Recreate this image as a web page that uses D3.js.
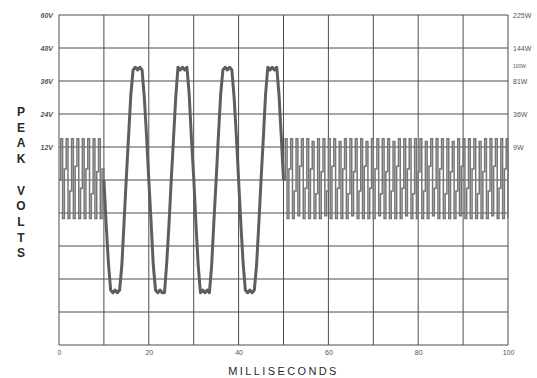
<!DOCTYPE html>
<html>
<head>
<meta charset="utf-8">
<script src="https://cdn.jsdelivr.net/npm/d3@7"></script>
<style>
  body { margin: 0; background: #fff; }
  svg { display: block; font-family: 'Liberation Sans', Arial, sans-serif; }
</style>
</head>
<body>
<div class="chart"></div>
<script>
// x ticks (ms) and y ticks (peak volts)
const xTicks = [0, 20, 40, 60, 80, 100];
const xGrid = [0, 10, 20, 30, 40, 50, 60, 70, 80, 90, 100];
const yGrid = [-60, -48, -36, -24, -12, 0, 12, 24, 36, 48, 60];
const voltTicks = [12, 24, 36, 48, 60];
const wattTicks = [12, 24, 36, 40, 48, 60];
const wattLabels = ['9W', '36W', '81W', '100W', '144W', '225W'];
const yTitle = ['P', 'E', 'A', 'K', '', 'V', 'O', 'L', 'T', 'S'];

// burst before the sine, sampled every 0.4 ms from 0 ms
const burst1Start = 0, burst1Step = 0.4;
const burst1 = [0, 15, -14, 4, 15, -14, -4, 15, -14, 5, 15, -14, -3, 15, -14, 4, 15, -14, -5, 15, -14, 3, 15, -14, 4, 0];

// clipped sine, sampled every 0.5 ms from 10 ms
const sineStart = 10, sineStep = 0.5;
const sine = [
  0, -16, -30, -40, -41, -40, -41, -40, -31, -15,
  1, 16, 31, 40, 41, 40, 41, 40, 30, 16,
  0, -15, -31, -40, -41, -40, -41, -41, -30, -16,
  0, 15, 30, 41, 40, 41, 40, 41, 31, 15,
  1, -16, -31, -41, -40, -41, -40, -41, -31, -15,
  0, 16, 31, 40, 41, 40, 41, 40, 30, 16,
  0, -16, -30, -40, -41, -40, -41, -40, -31, -16,
  0, 15, 31, 41, 40, 41, 40, 41, 31, 16,
  0
];

// burst after the sine, sampled every 0.4 ms from 50 ms
const burst2Start = 50, burst2Step = 0.4;
const burst2 = [
  0, 15, -14, 4, 15, -14, -4, 15, -13, 5, 15, -14,
  -3, 15, -14, 4, 14, -14, -5, 15, -14, 3, 15, -13,
  -4, 15, -14, 5, 15, -14, -3, 14, -14, 4, 15, -14,
  -5, 15, -13, 3, 15, -14, -4, 15, -14, 5, 14, -14,
  -3, 15, -14, 4, 15, -13, -5, 15, -14, 3, 15, -14,
  -4, 14, -14, 5, 15, -14, -3, 15, -13, 4, 15, -14,
  -5, 15, -14, 3, 15, -14, -4, 14, -14, 5, 15, -13,
  -3, 15, -14, 4, 15, -14, -5, 15, -14, 3, 14, -14,
  -4, 15, -13, 5, 15, -14, -3, 15, -14, 4, 15, -14,
  -5, 14, -14, 3, 15, -14, -4, 15, -13, 5, 15, -14,
  -3, 15, -14, 4, 15, -14
];

const width = 537, height = 378;
const margin = { left: 59, top: 15, right: 29, bottom: 33 };
const w = width - margin.left - margin.right;
const h = height - margin.top - margin.bottom;
const gridColor = '#4d4d4d';
const textColor = '#555';

const svg = d3.select('.chart').append('svg')
  .attr('width', width)
  .attr('height', height);

const g = svg.append('g')
  .attr('transform', 'translate(' + margin.left + ',' + margin.top + ')');

const x = d3.scaleLinear().domain([0, 100]).range([0, w]);
const y = d3.scaleLinear().domain([-60, 60]).range([h, 0]);

// grid
g.append('g')
  .selectAll('line')
  .data(xGrid)
  .join('line')
  .attr('x1', (d) => x(d))
  .attr('x2', (d) => x(d))
  .attr('y1', 0)
  .attr('y2', h)
  .attr('stroke', gridColor)
  .attr('stroke-width', 1);

g.append('g')
  .selectAll('line')
  .data(yGrid)
  .join('line')
  .attr('x1', 0)
  .attr('x2', w)
  .attr('y1', (d) => y(d))
  .attr('y2', (d) => y(d))
  .attr('stroke', gridColor)
  .attr('stroke-width', 1);

// axes (labels only)
const left = g.append('g')
  .call(d3.axisLeft(y).tickValues(voltTicks).tickSize(0).tickPadding(6).tickFormat((d) => d + 'V'));
left.select('.domain').remove();
left.selectAll('text')
  .attr('fill', textColor)
  .style('font-size', '7px')
  .style('font-weight', 'bold')
  .style('font-style', 'italic');

const right = g.append('g')
  .attr('transform', 'translate(' + w + ',0)')
  .call(d3.axisRight(y).tickValues(wattTicks).tickSize(0).tickPadding(5)
    .tickFormat((d, i) => wattLabels[i]));
right.select('.domain').remove();
right.selectAll('text')
  .attr('fill', textColor)
  .style('font-size', (d) => (d === 40 ? '5px' : '7px'))
  .attr('dy', (d) => (d === 40 ? '-0.6em' : '0.32em'));

const bottom = g.append('g')
  .attr('transform', 'translate(0,' + h + ')')
  .call(d3.axisBottom(x).tickValues(xTicks).tickSize(0).tickPadding(5));
bottom.select('.domain').remove();
bottom.selectAll('text')
  .attr('fill', textColor)
  .style('font-size', '7px');

// axis titles
svg.append('text')
  .attr('x', margin.left + w / 2)
  .attr('y', 375)
  .attr('text-anchor', 'middle')
  .attr('fill', '#2a2a2a')
  .style('font-size', '11px')
  .style('letter-spacing', '2.4px')
  .text('MILLISECONDS');

svg.append('g')
  .selectAll('text')
  .data(yTitle)
  .join('text')
  .attr('x', 21)
  .attr('y', (d, i) => 116 + i * 15.7)
  .attr('text-anchor', 'middle')
  .attr('fill', '#2a2a2a')
  .style('font-size', '12px')
  .style('font-weight', 'bold')
  .text((d) => d);

// waveform
function series(values, t0, step) {
  return values.map((v, i) => [t0 + i * step, v]);
}
const stepLine = d3.line()
  .curve(d3.curveStepAfter)
  .x((d) => x(d[0]))
  .y((d) => y(d[1]));
const line = d3.line()
  .x((d) => x(d[0]))
  .y((d) => y(d[1]));

[[burst1, burst1Start, burst1Step], [burst2, burst2Start, burst2Step]].forEach((b) => {
  g.append('path')
    .datum(series(b[0], b[1], b[2]))
    .attr('d', stepLine)
    .attr('fill', 'none')
    .attr('stroke', '#767676')
    .attr('stroke-width', 1.5);
});

g.append('path')
  .datum(series(sine, sineStart, sineStep))
  .attr('d', line)
  .attr('fill', 'none')
  .attr('stroke', '#5e5e5e')
  .attr('stroke-width', 3)
  .attr('stroke-linejoin', 'round');
</script>
</body>
</html>
